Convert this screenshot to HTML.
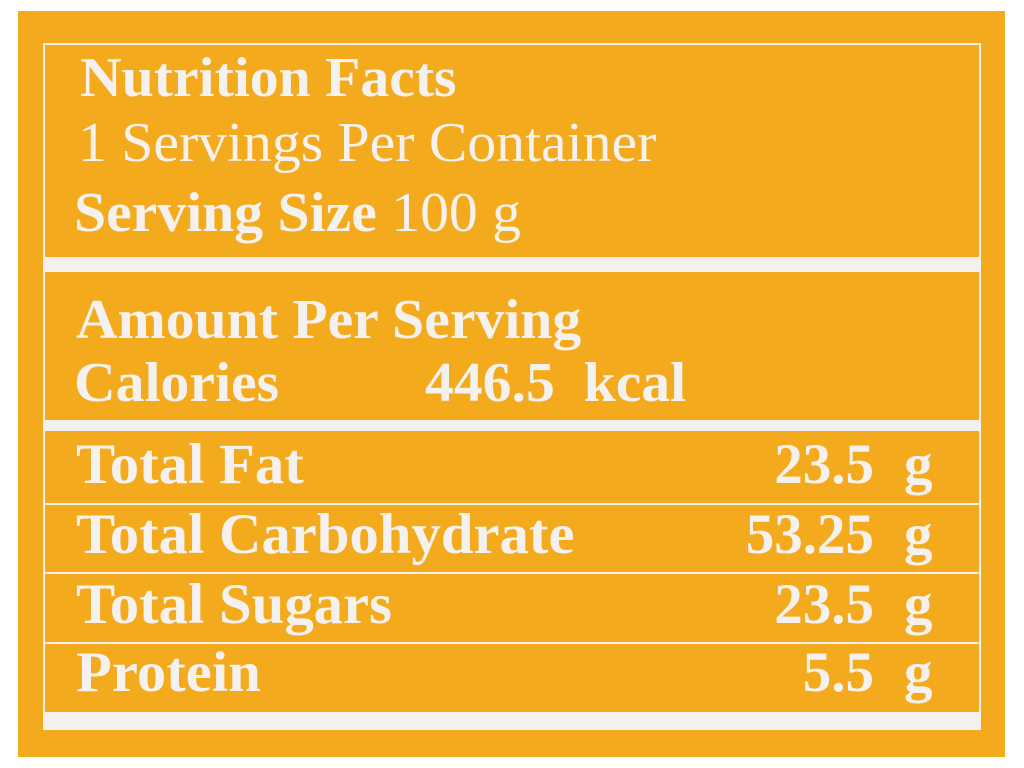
<!DOCTYPE html>
<html><head><meta charset="utf-8"><style>
body{margin:0;width:1024px;height:768px;background:#fff;position:relative;overflow:hidden;font-family:"Liberation Serif",serif;}
.bg{position:absolute;left:18px;top:11px;width:987px;height:746px;background:#F4AA1D;}
.w{position:absolute;background:#F3F0EE;}
.t{position:absolute;color:#F4F1EE;white-space:nowrap;line-height:1;transform-origin:0 0;transform:scaleX(1.03);}
.b{font-weight:bold;}
.v{position:absolute;right:150px;color:#F4F1EE;font-weight:bold;font-size:57px;line-height:1;}
.g{position:absolute;left:904px;color:#F4F1EE;font-weight:bold;font-size:57px;line-height:1;}
</style></head><body>
<div class="bg"></div>
<div class="w" style="left:44px;top:43px;width:937px;height:2px"></div>
<div class="w" style="left:43px;top:43px;width:2px;height:687px"></div>
<div class="w" style="left:979px;top:43px;width:2px;height:687px"></div>
<div class="w" style="left:44px;top:257px;width:937px;height:15px"></div>
<div class="w" style="left:44px;top:420px;width:937px;height:11px"></div>
<div class="w" style="left:44px;top:503px;width:937px;height:2px"></div>
<div class="w" style="left:44px;top:572px;width:937px;height:2px"></div>
<div class="w" style="left:44px;top:642px;width:937px;height:2px"></div>
<div class="w" style="left:44px;top:712px;width:937px;height:18px"></div>

<div class="t b" style="left:80px;top:50px;font-size:56px">Nutrition Facts</div>
<div class="t" style="left:78px;top:115px;font-size:56px">1 Servings Per Container</div>
<div class="t" style="left:74px;top:185px;font-size:56px"><span class="b">Serving Size</span> 100 g</div>
<div class="t b" style="left:76px;top:292px;font-size:56px">Amount Per Serving</div>
<div class="t b" style="left:74px;top:355px;font-size:56px">Calories</div>
<div class="t b" style="left:425px;top:355px;font-size:56px">446.5&nbsp; kcal</div>

<div class="t b" style="left:76px;top:436px;font-size:57px">Total Fat</div>
<div class="v" style="top:436px">23.5</div><div class="g" style="top:436px">g</div>
<div class="t b" style="left:76px;top:506px;font-size:57px">Total Carbohydrate</div>
<div class="v" style="top:506px">53.25</div><div class="g" style="top:506px">g</div>
<div class="t b" style="left:76px;top:576px;font-size:57px">Total Sugars</div>
<div class="v" style="top:576px">23.5</div><div class="g" style="top:576px">g</div>
<div class="t b" style="left:76px;top:644px;font-size:57px">Protein</div>
<div class="v" style="top:644px">5.5</div><div class="g" style="top:644px">g</div>
</body></html>
